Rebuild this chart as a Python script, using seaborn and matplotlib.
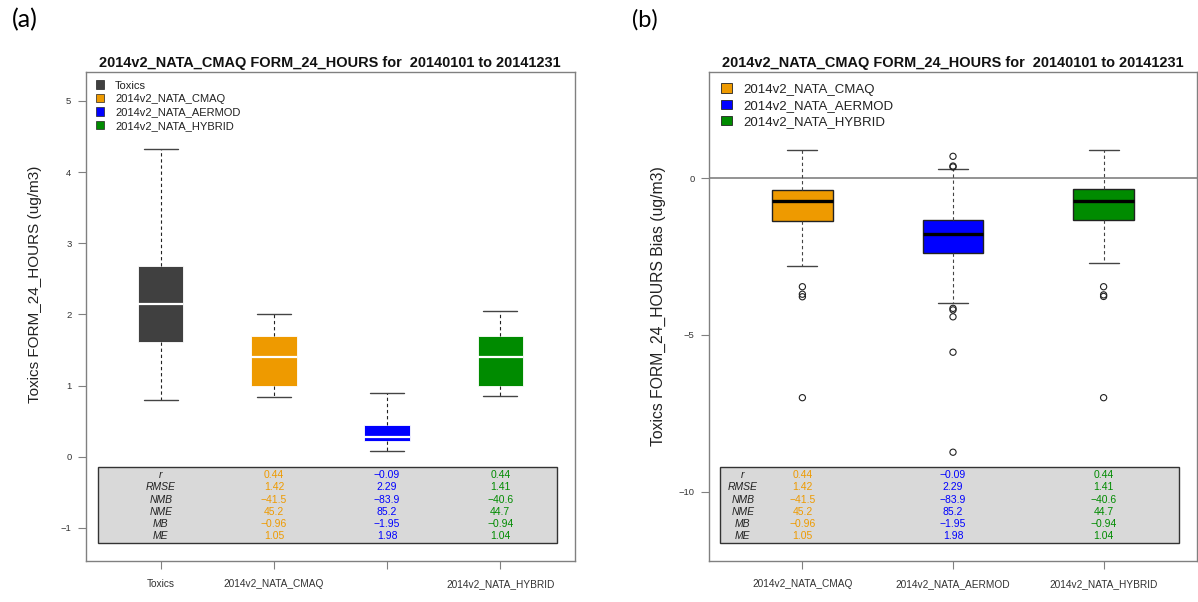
import numpy as np
import pandas as pd
import matplotlib
matplotlib.use("Agg")
import matplotlib.pyplot as plt
import matplotlib.transforms as mtrans
from matplotlib.patches import Patch, Rectangle
import seaborn as sns

sns.set_theme(style="white")
plt.rcParams['font.family'] = ['Liberation Sans', 'DejaVu Sans']

# ---------------- data ----------------
title_text = "2014v2_NATA_CMAQ FORM_24_HOURS for  20140101 to 20141231"

conc_models = ["Toxics", "2014v2_NATA_CMAQ", "2014v2_NATA_AERMOD", "2014v2_NATA_HYBRID"]
conc_xticklabels = ["Toxics", "2014v2_NATA_CMAQ", "", "2014v2_NATA_HYBRID"]
conc_whislo = [0.80, 0.84, 0.075, 0.85]
conc_q1 = [1.615, 1.00, 0.215, 1.00]
conc_med = [2.15, 1.40, 0.28, 1.40]
conc_q3 = [2.68, 1.70, 0.445, 1.70]
conc_whishi = [4.32, 2.00, 0.89, 2.05]
conc_yticks = [-1, 0, 1, 2, 3, 4, 5]

bias_models = ["2014v2_NATA_CMAQ", "2014v2_NATA_AERMOD", "2014v2_NATA_HYBRID"]
bias_whislo = [-2.80, -3.99, -2.69]
bias_q1 = [-1.37, -2.39, -1.34]
bias_med = [-0.73, -1.79, -0.72]
bias_q3 = [-0.37, -1.32, -0.35]
bias_whishi = [0.90, 0.31, 0.90]
bias_out_model = (["2014v2_NATA_CMAQ"] * 4 + ["2014v2_NATA_AERMOD"] * 8
                  + ["2014v2_NATA_HYBRID"] * 4)
bias_out_value = [-3.46, -3.70, -3.78, -7.0,
                  0.70, 0.39, 0.36, -4.15, -4.20, -4.42, -5.55, -8.74,
                  -3.46, -3.72, -3.77, -7.0]
bias_yticks = [-10, -5, 0]

stat_names = ["r", "RMSE", "NMB", "NME", "MB", "ME"]
stat_fmt = ["{:.2f}", "{:.2f}", "{:.1f}", "{:.1f}", "{:.2f}", "{:.2f}"]
cmaq_stats = [0.44, 1.42, -41.5, 45.2, -0.96, 1.05]
aermod_stats = [-0.09, 2.29, -83.9, 85.2, -1.95, 1.98]
hybrid_stats = [0.44, 1.41, -40.6, 44.7, -0.94, 1.04]

model_colors = {
    "Toxics": "#404040",
    "2014v2_NATA_CMAQ": "#EE9A00",
    "2014v2_NATA_AERMOD": "#0000FF",
    "2014v2_NATA_HYBRID": "#008B00",
}
stats_by_model = {
    "2014v2_NATA_CMAQ": cmaq_stats,
    "2014v2_NATA_AERMOD": aermod_stats,
    "2014v2_NATA_HYBRID": hybrid_stats,
}

# ---------------- figure ----------------
W, H = 1198, 602
fig = plt.figure(figsize=(W / 100, H / 100), dpi=100)


def px_axes(x0, x1, ytop, ybot):
    return fig.add_axes([x0 / W, 1 - ybot / H, (x1 - x0) / W, (ybot - ytop) / H])


axL = px_axes(86, 575, 71.7, 560.5)
axR = px_axes(709, 1197, 71.7, 560.5)

spine_col = "#808080"


def fmt_num(v, f):
    return f.format(v).replace("-", "\u2212")


def make_stats(models, lo, q1, med, q3, hi):
    out = []
    for i, m in enumerate(models):
        out.append(dict(label=m, whislo=lo[i], q1=q1[i], med=med[i], q3=q3[i],
                        whishi=hi[i], fliers=[]))
    return out


def style_axes(ax):
    for s in ax.spines.values():
        s.set_color(spine_col)
        s.set_linewidth(1.0)
    ax.tick_params(axis="both", bottom=True, left=True, direction="out",
                   length=5.5, width=0.8, color=spine_col, labelcolor="#333333")
    ax.tick_params(axis="y", labelsize=6.8, pad=5)
    ax.tick_params(axis="x", labelsize=7.3, pad=8)
    ax.grid(False)


def draw_table(ax, models, label_x, n):
    trans = mtrans.blended_transform_factory(ax.transData, ax.transAxes)
    ax.add_patch(Rectangle((-0.55, 0.0364), n - 0.5 + 0.55, 0.192 - 0.0364,
                           transform=trans, facecolor="#D9D9D9",
                           edgecolor="#333333", lw=1.0, zorder=5))
    y0, dy = 0.1749, 0.02516
    for k, name in enumerate(stat_names):
        y = y0 - k * dy
        ax.text(label_x, y, name, transform=trans, ha="center", va="center",
                fontsize=7.5, style="italic", color="#222222", zorder=6)
        for m in models:
            if m not in stats_by_model:
                continue
            xi = models.index(m)
            ax.text(xi, y, fmt_num(stats_by_model[m][k], stat_fmt[k]),
                    transform=trans, ha="center", va="center", fontsize=7.5,
                    color=model_colors[m], zorder=6)


# ---------------- panel (a) ----------------
statsL = make_stats(conc_models, conc_whislo, conc_q1, conc_med, conc_q3, conc_whishi)
bpL = axL.bxp(statsL, positions=range(len(conc_models)), widths=0.40,
              capwidths=0.30, patch_artist=True, showfliers=False,
              boxprops=dict(edgecolor="white", linewidth=0.6),
              medianprops=dict(color="white", linewidth=1.6),
              whiskerprops=dict(color="#222222", linewidth=0.8, linestyle=(0, (3, 2.5))),
              capprops=dict(color="#444444", linewidth=1.0))
for patch, m in zip(bpL["boxes"], conc_models):
    patch.set_facecolor(model_colors[m])
axL.set_xlim(-0.66, len(conc_models) - 1 + 0.66)
axL.set_ylim(-1.459, 5.41)
axL.set_yticks(conc_yticks)
axL.set_yticklabels([str(v).replace("-", "\u2212") for v in conc_yticks])
axL.set_xticks(range(len(conc_models)))
axL.set_xticklabels(conc_xticklabels)
style_axes(axL)
draw_table(axL, conc_models, 0.0, len(conc_models))
legL = axL.legend(handles=[Patch(facecolor=model_colors[m], edgecolor="#222222",
                                 linewidth=0.5, label=m) for m in conc_models],
                  loc="upper left", bbox_to_anchor=(0.0198, 0.982), borderaxespad=0,
                  borderpad=0, frameon=False, fontsize=8.0, handlelength=0.78,
                  handleheight=0.78, handletextpad=0.96, labelspacing=0.30)
for t in legL.get_texts():
    t.set_color("#222222")

# ---------------- panel (b) ----------------
statsR = make_stats(bias_models, bias_whislo, bias_q1, bias_med, bias_q3, bias_whishi)
axR.axhline(0, color="#808080", linewidth=1.2, zorder=0.5)
bpR = axR.bxp(statsR, positions=range(len(bias_models)), widths=0.40,
              capwidths=0.20, patch_artist=True, showfliers=False,
              boxprops=dict(edgecolor="#222222", linewidth=1.0),
              medianprops=dict(color="black", linewidth=2.4),
              whiskerprops=dict(color="#444444", linewidth=0.8, linestyle=(0, (3, 2.5))),
              capprops=dict(color="#444444", linewidth=1.0))
for patch, m in zip(bpR["boxes"], bias_models):
    patch.set_facecolor(model_colors[m])
out_df = pd.DataFrame({"model": bias_out_model, "value": bias_out_value})
out_df["pos"] = out_df["model"].map({m: i for i, m in enumerate(bias_models)})
sns.scatterplot(data=out_df, x="pos", y="value", ax=axR, marker="o", s=20,
                color="black", linewidth=0.8, legend=False, zorder=4)
for coll in axR.collections:
    coll.set_facecolor("none")
    coll.set_edgecolor("#222222")
axR.set_xlabel("")
axR.set_ylabel("")
axR.set_xlim(-0.62, len(bias_models) - 1 + 0.62)
axR.set_ylim(-12.195, 3.40)
axR.set_yticks(bias_yticks)
axR.set_yticklabels([str(v).replace("-", "\u2212") for v in bias_yticks])
axR.set_xticks(range(len(bias_models)))
axR.set_xticklabels(bias_models)
style_axes(axR)
draw_table(axR, bias_models, -0.396, len(bias_models))
legR = axR.legend(handles=[Patch(facecolor=model_colors[m], edgecolor="#222222",
                                 linewidth=0.6, label=m) for m in bias_models],
                  loc="upper left", bbox_to_anchor=(0.025, 0.976), borderaxespad=0,
                  borderpad=0, frameon=False, fontsize=9.56, handlelength=0.8,
                  handleheight=0.7, handletextpad=0.9, labelspacing=0.30)
for t in legR.get_texts():
    t.set_color("#222222")

# ---------------- text ----------------
tL = fig.text(329.7 / W, 1 - 62.5 / H, title_text, ha="center", va="center",
              fontsize=10, fontweight="bold", color="#111111")
tR = fig.text(952.5 / W, 1 - 62.5 / H, title_text, ha="center", va="center",
              fontsize=10, fontweight="bold", color="#111111")
yL = fig.text(35 / W, 1 - 284.5 / H, "Toxics FORM_24_HOURS (ug/m3)", rotation=90,
              ha="center", va="center", fontsize=11, color="#222222")
yR = fig.text(658 / W, 1 - 306 / H, "Toxics FORM_24_HOURS Bias (ug/m3)", rotation=90,
              ha="center", va="center", fontsize=11.5, color="#222222")
pa = fig.text(25 / W, 1 - 20 / H, "(a)", ha="center", va="center", fontsize=16,
              family=["Lato", "DejaVu Sans"], color="black")
pb = fig.text(645 / W, 1 - 20 / H, "(b)", ha="center", va="center", fontsize=16,
              family=["Lato", "DejaVu Sans"], color="black")


def fit(t, target, vertical=False):
    fig.canvas.draw()
    r = fig.canvas.get_renderer()
    bb = t.get_window_extent(renderer=r)
    size = bb.height if vertical else bb.width
    t.set_fontsize(t.get_fontsize() * target / size)


fit(tL, 461)
fit(tR, 461)
fit(yL, 237, vertical=True)
fit(yR, 282, vertical=True)
fit(pa, 26)
fit(pb, 26)

fig.savefig("out.png", dpi=100, facecolor="white")
